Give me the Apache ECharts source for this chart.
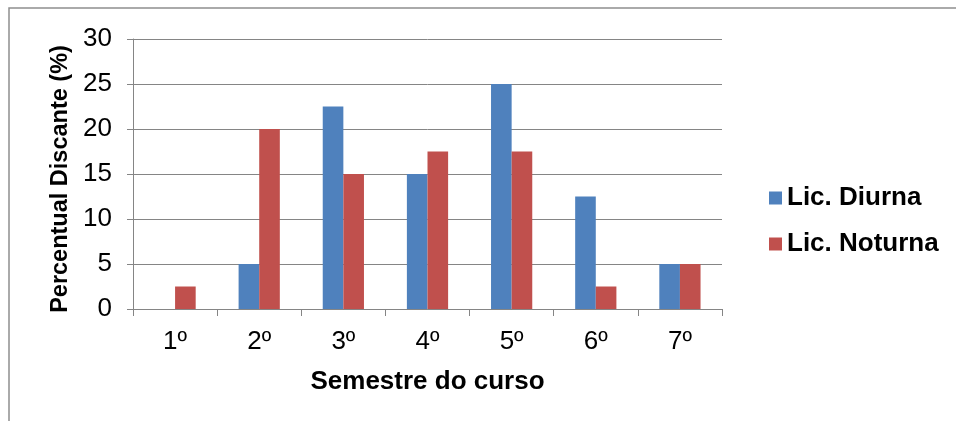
<!DOCTYPE html>
<html>
<head>
<meta charset="utf-8">
<script src="https://cdn.jsdelivr.net/npm/echarts@6/dist/echarts.min.js"></script>
<style>
  html, body { margin: 0; padding: 0; background: #fff; }
  #chart { width: 956px; height: 421px; }
</style>
</head>
<body>
<div id="chart"></div>
<script>
// Semesters of the course and dropout share per shift (%)
const semesters = ['1º', '2º', '3º', '4º', '5º', '6º', '7º'];
const diurna = [0, 5, 22.5, 15, 25, 12.5, 5];
const noturna = [2.5, 20, 15, 17.5, 17.5, 2.5, 5];
const seriesNames = ['Lic. Diurna', 'Lic. Noturna'];
const yTicks = { min: 0, max: 30, interval: 5 };

const FONT = '"Liberation Sans", Arial, sans-serif';
const AXIS_GRAY = '#858585';

const chart = echarts.init(document.getElementById('chart'), null, { renderer: 'canvas' });

chart.setOption({
  animation: false,
  backgroundColor: '#ffffff',
  textStyle: { fontFamily: FONT },
  graphic: [{
    type: 'rect',
    shape: { x: 9, y: 8, width: 1200, height: 600 },
    style: { fill: 'none', stroke: '#8e8e8e', lineWidth: 1.5 },
    silent: true
  }],
  grid: { left: 133, right: 234, top: 39, bottom: 112 },
  legend: {
    orient: 'vertical',
    left: 764,
    top: 180,
    itemWidth: 13,
    itemHeight: 13,
    itemGap: 20,
    icon: 'rect',
    data: seriesNames,
    textStyle: { fontFamily: FONT, fontSize: 26, fontWeight: 'bold', color: '#000' }
  },
  xAxis: {
    type: 'category',
    data: semesters,
    name: 'Semestre do curso',
    nameLocation: 'middle',
    nameGap: 60,
    nameTextStyle: { fontFamily: FONT, fontSize: 26, fontWeight: 'bold', color: '#000' },
    axisLine: { lineStyle: { color: AXIS_GRAY, width: 1 } },
    axisTick: { show: true, length: 7, alignWithLabel: false, lineStyle: { color: AXIS_GRAY } },
    axisLabel: { margin: 20, fontFamily: FONT, fontSize: 26, color: '#000' },
    splitLine: { show: false }
  },
  yAxis: {
    type: 'value',
    min: yTicks.min,
    max: yTicks.max,
    interval: yTicks.interval,
    name: 'Percentual Discante (%)',
    nameLocation: 'middle',
    nameGap: 58,
    nameRotate: 90,
    nameTextStyle: {
      fontFamily: FONT, fontSize: 23.5, fontWeight: 'bold', color: '#000',
      padding: [0, 10, 0, 0]
    },
    axisLine: { show: true, lineStyle: { color: AXIS_GRAY, width: 1 } },
    axisTick: { show: true, length: 6, lineStyle: { color: AXIS_GRAY } },
    axisLabel: { margin: 21, fontFamily: FONT, fontSize: 26, color: '#000' },
    splitLine: { show: true, lineStyle: { color: AXIS_GRAY, width: 1 } }
  },
  series: [
    {
      name: seriesNames[0],
      type: 'bar',
      data: diurna,
      barGap: '0%',
      barCategoryGap: '51%',
      itemStyle: { color: '#4F81BD' }
    },
    {
      name: seriesNames[1],
      type: 'bar',
      data: noturna,
      barGap: '0%',
      barCategoryGap: '51%',
      itemStyle: { color: '#C0504D' }
    }
  ]
});
</script>
</body>
</html>
